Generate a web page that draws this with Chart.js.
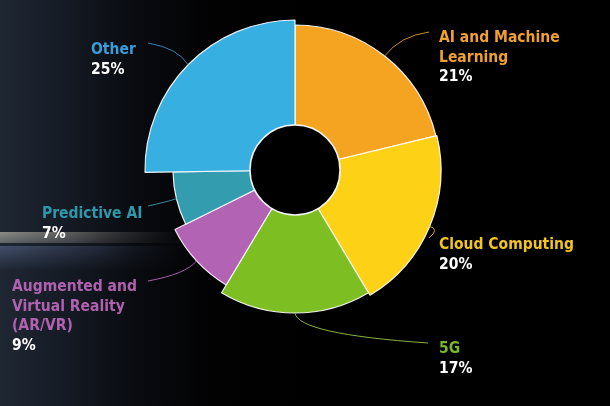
<!DOCTYPE html>
<html>
<head>
<meta charset="utf-8">
<script src="https://cdn.jsdelivr.net/npm/chart.js@4/dist/chart.umd.min.js"></script>
<style>
  html, body { margin: 0; padding: 0; background: #000; }
  #wrap { position: relative; width: 610px; height: 406px; }
  canvas { display: block; }
</style>
</head>
<body>
<div id="wrap"><canvas id="c" width="610" height="406"></canvas></div>
<script>
// ---- data ----
const categories = ["AI and Machine Learning", "Cloud Computing", "5G",
                    "Augmented and Virtual Reality (AR/VR)", "Predictive AI", "Other"];
const shares = [21, 20, 17, 9, 7, 25];                 // percent (slice angle)
const radiusValues = [145, 146, 143, 134, 122, 150];   // slice depth (outer radius)
const pctLabels = ["21%", "20%", "17%", "9%", "7%", "25%"];
const labelLines = [["AI and Machine", "Learning"], ["Cloud Computing"], ["5G"],
                    ["Augmented and", "Virtual Reality", "(AR/VR)"], ["Predictive AI"], ["Other"]];

// ---- styling ----
const sliceColors = ["#F5A422", "#FCD116", "#7DBF22", "#B363B3", "#339CAE", "#38AFE1"];
const textColors  = ["#F0A030", "#F2C51E", "#7AB62A", "#B062B0", "#2F98AA", "#3A9CDA"];
const lineColors  = ["#C88A30", "#C8A620", "#8CB040", "#A060A0", "#3A8898", "#3A80B0"];
// label layout: [textX, firstBaseline, align, lineEndX, lineEndY, ctrlX, ctrlY]
const labelLayout = [
  [439, 42, "left", 429, 32, 400, 36],
  [439, 249, "left", 429, 238, 440, 229],
  [439, 353, "left", 428, 343, 298, 334],
  [12, 291, "left", 148, 281, 186, 274],
  [42, 218, "left", 148, 206, 166, 202],
  [91, 54, "left", 148, 43, 178, 48]
];
const totalShare = shares.reduce((a, b) => a + b, 0);

const bgPlugin = {
  id: "bg",
  beforeDraw(chart) {
    const ctx = chart.ctx;
    ctx.save();
    ctx.fillStyle = "#000";
    ctx.fillRect(0, 0, 610, 406);
    let g = ctx.createLinearGradient(0, 0, 300, 0);
    g.addColorStop(0, "#1f2733");
    g.addColorStop(0.2, "#161c26");
    g.addColorStop(0.45, "#090b10");
    g.addColorStop(0.7, "#020203");
    g.addColorStop(1, "#000000");
    ctx.fillStyle = g;
    ctx.fillRect(0, 0, 300, 406);
    // light streak (rows with vertical shading, horizontal fade)
    for (let y = 232; y < 243; y++) {
      const t = (y - 232) / 11;
      const a = 0.9 - 0.35 * t;
      const gg = ctx.createLinearGradient(0, 0, 185, 0);
      gg.addColorStop(0, `rgba(150,150,144,${a})`);
      gg.addColorStop(0.4, `rgba(115,115,110,${a * 0.8})`);
      gg.addColorStop(0.75, `rgba(60,60,60,${a * 0.5})`);
      gg.addColorStop(1, "rgba(40,40,40,0)");
      ctx.fillStyle = gg;
      ctx.fillRect(0, y, 185, 1);
    }
    // bluish glow below the streak
    for (let y = 246; y < 270; y++) {
      const t = (y - 246) / 24;
      const a = 0.85 * (1 - t);
      const gg = ctx.createLinearGradient(0, 0, 190, 0);
      gg.addColorStop(0, `rgba(72,86,115,${a})`);
      gg.addColorStop(0.5, `rgba(55,65,88,${a * 0.6})`);
      gg.addColorStop(1, "rgba(30,35,50,0)");
      ctx.fillStyle = gg;
      ctx.fillRect(0, y, 190, 1);
    }
    ctx.restore();
  }
};

const holePlugin = {
  id: "hole",
  afterDatasetsDraw(chart) {
    const ctx = chart.ctx;
    const s = chart.scales.r;
    ctx.save();
    ctx.beginPath();
    ctx.arc(s.xCenter, s.yCenter, 45, 0, Math.PI * 2);
    ctx.fillStyle = "#000";
    ctx.fill();
    ctx.lineWidth = 1.5;
    ctx.strokeStyle = "rgba(255,255,255,0.95)";
    ctx.stroke();
    ctx.restore();
  }
};

const labelPlugin = {
  id: "outLabels",
  afterDraw(chart) {
    const ctx = chart.ctx;
    const meta = chart.getDatasetMeta(0);
    ctx.save();
    meta.data.forEach((arc, i) => {
      const p = arc.getProps(["x", "y", "startAngle", "endAngle", "outerRadius"], true);
      const mid = (p.startAngle + p.endAngle) / 2;
      const sx = p.x + Math.cos(mid) * p.outerRadius;
      const sy = p.y + Math.sin(mid) * p.outerRadius;
      const L = labelLayout[i];
      ctx.beginPath();
      ctx.moveTo(sx, sy);
      ctx.quadraticCurveTo(L[5], L[6], L[3], L[4]);
      ctx.strokeStyle = lineColors[i];
      ctx.lineWidth = 1;
      ctx.stroke();
      ctx.font = "bold 15.5px 'DejaVu Sans Condensed', 'DejaVu Sans', sans-serif";
      ctx.textAlign = L[2];
      ctx.textBaseline = "alphabetic";
      let y = L[1];
      ctx.fillStyle = textColors[i];
      labelLines[i].forEach(t => { ctx.fillText(t, L[0], y); y += 19.5; });
      ctx.fillStyle = "#FFFFFF";
      ctx.fillText(pctLabels[i], L[0], y);
    });
    ctx.restore();
  }
};

new Chart(document.getElementById("c"), {
  type: "polarArea",
  data: {
    labels: categories,
    datasets: [{
      data: radiusValues,
      backgroundColor: sliceColors,
      borderColor: "rgba(255,255,255,0.9)",
      borderWidth: 1.2,
      angle: shares.map(v => v / totalShare * 360)
    }]
  },
  options: {
    responsive: false,
    animation: false,
    layout: { padding: { left: 145, right: 165, top: 20, bottom: 86 } },
    scales: {
      r: { min: 0, max: 150, display: false, startAngle: 0 }
    },
    plugins: { legend: { display: false }, tooltip: { enabled: false } }
  },
  plugins: [bgPlugin, holePlugin, labelPlugin]
});
</script>
</body>
</html>
